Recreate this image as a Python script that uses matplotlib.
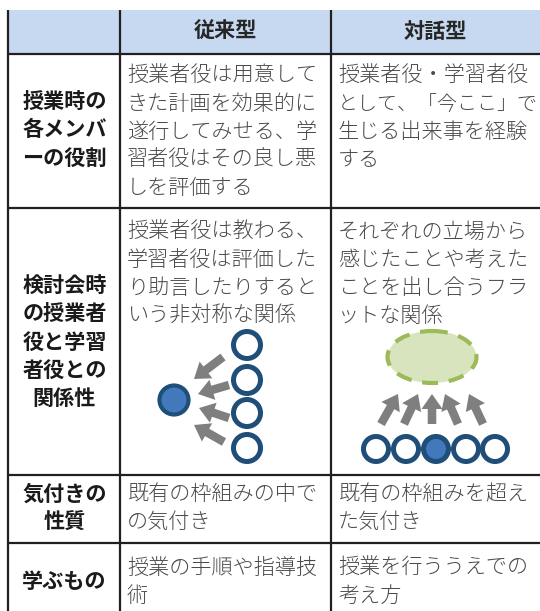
import matplotlib
matplotlib.use('Agg')
import matplotlib.pyplot as plt
from matplotlib.patches import Rectangle, Circle, Ellipse, FancyArrow

plt.rcParams['font.family'] = ['Noto Sans CJK JP', 'DejaVu Sans']

# table content
col_headers = ['従来型', '対話型']
row_headers = [
    ['授業時の', '各メンバ', 'ーの役割'],
    ['検討会時', 'の授業者', '役と学習', '者役との', '関係性'],
    ['気付きの', '性質'],
    ['学ぶもの'],
]
col2_text = [
    ['授業者役は用意して', 'きた計画を効果的に', '遂行してみせる、学', '習者役はその良し悪', 'しを評価する'],
    ['授業者役は教わる、', '学習者役は評価した', 'り助言したりすると', 'いう非対称な関係'],
    ['既有の枠組みの中で', 'の気付き'],
    ['授業の手順や指導技', '術'],
]
col3_text = [
    ['授業者役・学習者役', 'として、「今ここ」で', '生じる出来事を経験', 'する'],
    ['それぞれの立場から', '感じたことや考えた', 'ことを出し合うフラ', 'ットな関係'],
    ['既有の枠組みを超え', 'た気付き'],
    ['授業を行ううえでの', '考え方'],
]

# layout (pixels)
W, H = 540, 611
x_left, x_c1, x_c2, x_right = 7.5, 119.5, 331, 540
y_top, y_head = 10, 53.5
row_bounds = [53.5, 207.5, 475, 543]
head_centres = [130, 342, 508, 582]
tops = [76, 232, 494, 568]
line_h = 28
fs = 15.2
line_col = '#231f20'
body_col = '#4a4a4a'

fig = plt.figure(figsize=(W / 100, H / 100), dpi=100)
ax = fig.add_axes([0, 0, 1, 1])
ax.set_xlim(0, W)
ax.set_ylim(H, 0)
ax.axis('off')


def body_line(x, y, s, avail):
    # shrink a line that would run past the cell edge
    size = min(fs, avail / len(s) * 72 / 100)
    ax.text(x, y, s, ha='left', va='center', fontsize=size,
            color=body_col, fontweight='light')


# header background
ax.add_patch(Rectangle((x_left, y_top), x_right - x_left, y_head - y_top,
                       facecolor='#c6d9f1', edgecolor='none', zorder=0))
for name, xa, xb in zip(col_headers, [x_c1, x_c2], [x_c2, x_right]):
    ax.text((xa + xb) / 2, 31.5, name, ha='center', va='center',
            fontsize=fs, fontweight='bold', color='#262626')

# grid lines
for y in row_bounds:
    ax.plot([x_left, x_right], [y, y], color=line_col, lw=1.6,
            solid_capstyle='butt')
for x in [x_left, x_c1, x_c2]:
    ax.plot([x, x], [y_top, H], color=line_col, lw=1.6, solid_capstyle='butt')

# row headers (vertically centred)
for i, lines in enumerate(row_headers):
    y0 = head_centres[i] - (len(lines) - 1) * line_h / 2
    for j, s in enumerate(lines):
        ax.text((x_left + x_c1) / 2 + 1, y0 + j * line_h, s, ha='center',
                va='center', fontsize=fs, fontweight='bold', color='#1a1a1a')

# body cells (top aligned)
for i in range(4):
    for j, s in enumerate(col2_text[i]):
        body_line(127, tops[i] + j * line_h, s, x_c2 - 127 - 2)
    for j, s in enumerate(col3_text[i]):
        body_line(338, tops[i] + j * line_h, s, x_right - 338 - 2)

# diagram colours
blue_edge = '#1f4e79'
blue_fill = '#4279bd'
arrow_col = '#7f7f7f'
arrow_kw = dict(width=8.5, head_width=21, head_length=15,
                length_includes_head=True, color=arrow_col, lw=0, zorder=2)

# left diagram: four open circles pointing at one filled circle
for yc in [345, 380, 413, 448]:
    ax.add_patch(Circle((247, yc), 13.5, facecolor='white',
                        edgecolor=blue_edge, lw=3.6, zorder=3))
ax.add_patch(Circle((174, 400), 14.5, facecolor=blue_fill,
                    edgecolor=blue_edge, lw=3.0, zorder=3))
left_arrows = [((223, 357), (194, 379)), ((229, 385), (198, 394)),
               ((229, 418), (199, 408)), ((224, 442), (194, 425))]
for (x0, y0), (x1, y1) in left_arrows:
    ax.add_patch(FancyArrow(x0, y0, x1 - x0, y1 - y0, **arrow_kw))

# right diagram: five circles pointing at shared ellipse
ax.add_patch(Ellipse((432, 357), 89, 52, facecolor='#d7e4bd',
                     edgecolor='#9bbb59', lw=3.0, linestyle=(0, (3.8, 2.6)),
                     zorder=2))
for k, xc in enumerate([376, 406, 436, 466, 495]):
    fc = blue_fill if k == 2 else 'white'
    ax.add_patch(Circle((xc, 449), 12.5, facecolor=fc,
                        edgecolor=blue_edge, lw=3.6, zorder=3))
right_arrows = [((381, 424), (398, 394)), ((404, 424), (418, 394)),
                ((432, 424), (432, 394)), ((458, 424), (445, 394)),
                ((483, 424), (469, 394))]
for (x0, y0), (x1, y1) in right_arrows:
    ax.add_patch(FancyArrow(x0, y0, x1 - x0, y1 - y0, **arrow_kw))

fig.savefig('out.png', dpi=100, facecolor='white')
